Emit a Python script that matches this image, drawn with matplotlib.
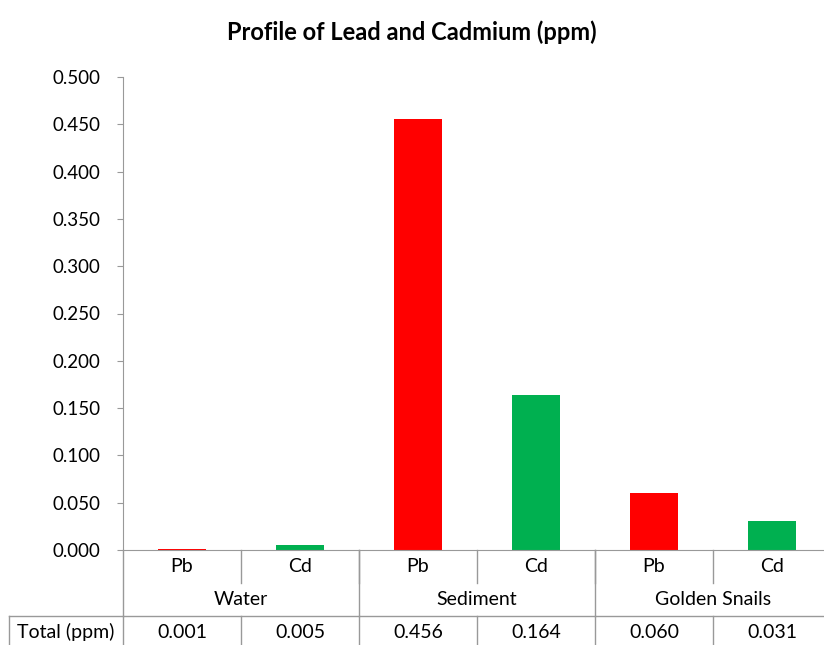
import numpy as np
import matplotlib.pyplot as plt
from matplotlib.transforms import blended_transform_factory

plt.rcParams['font.family'] = ['Lato', 'DejaVu Sans']

# Data
groups = ['Water', 'Sediment', 'Golden Snails']
metals = ['Pb', 'Cd']
pb_ppm = [0.001, 0.456, 0.060]
cd_ppm = [0.005, 0.164, 0.031]
colors = {'Pb': '#FF0000', 'Cd': '#00B050'}
yticks = np.arange(0, 0.501, 0.05)

W, H = 824, 645
fig = plt.figure(figsize=(W / 100, H / 100), dpi=100)
# axes spans 123..831 px horizontally, 77..550 px vertically
ax = fig.add_axes([123 / W, 95 / H, 708 / W, 473 / H])

vals = []
labs = []
cols = []
for g, p, c in zip(groups, pb_ppm, cd_ppm):
    vals += [p, c]
    labs += metals
    cols += [colors['Pb'], colors['Cd']]
x = np.arange(len(vals))

ax.bar(x, vals, width=0.4, color=cols)
ax.set_xlim(-0.5, len(vals) - 0.5)
ax.set_ylim(0, 0.5)
ax.set_yticks(yticks)
ax.set_yticklabels([f'{v:.3f}' for v in yticks])
ax.set_xticks([])

grey = '#999999'
for s in ['top', 'right']:
    ax.spines[s].set_visible(False)
ax.spines['left'].set_color(grey)
ax.spines['bottom'].set_color(grey)
ax.tick_params(axis='y', length=4, color=grey, labelsize=13.5, pad=12)

# data table below the axes
tr = blended_transform_factory(ax.transData, ax.transAxes)
ah = 473.0
r1 = -33 / ah          # bottom of metal row
r2 = -66 / ah          # bottom of group row
r3 = -95 / ah          # figure bottom
left_edge = -0.5 - 114 / 118.0

kw = dict(color=grey, lw=1, clip_on=False, transform=tr)
# separators inside metal row
for b in np.arange(0.5, len(vals) - 0.5, 1):
    ax.plot([b, b], [0, r1], **kw)
# group separators
for b in np.arange(-0.5, len(vals), 2):
    ax.plot([b, b], [0, r2], **kw)
# total row
ax.plot([left_edge, len(vals) - 0.5], [r2, r2], **kw)
for b in np.arange(-0.5, len(vals), 1):
    ax.plot([b, b], [r2, r3], **kw)
ax.plot([left_edge, left_edge], [r2, r3], **kw)

fs = 14
for xi, lab in zip(x, labs):
    ax.text(xi, r1 / 2, lab, ha='center', va='center', fontsize=fs, transform=tr)
for i, g in enumerate(groups):
    ax.text(2 * i + 0.5, (r1 + r2) / 2, g, ha='center', va='center', fontsize=fs, transform=tr)
ty = (r2 + r3) / 2 - 0.004
ax.text((left_edge - 0.5) / 2, ty, 'Total (ppm)', ha='center', va='center',
        fontsize=fs, transform=tr)
for xi, v in zip(x, vals):
    ax.text(xi, ty, f'{v:.3f}', ha='center', va='center', fontsize=fs, transform=tr)

fig.text(412 / W, 1 - 32 / H, 'Profile of Lead and Cadmium (ppm)', ha='center', va='center',
         fontsize=17, fontweight='bold')

fig.savefig('out.png', dpi=100)
